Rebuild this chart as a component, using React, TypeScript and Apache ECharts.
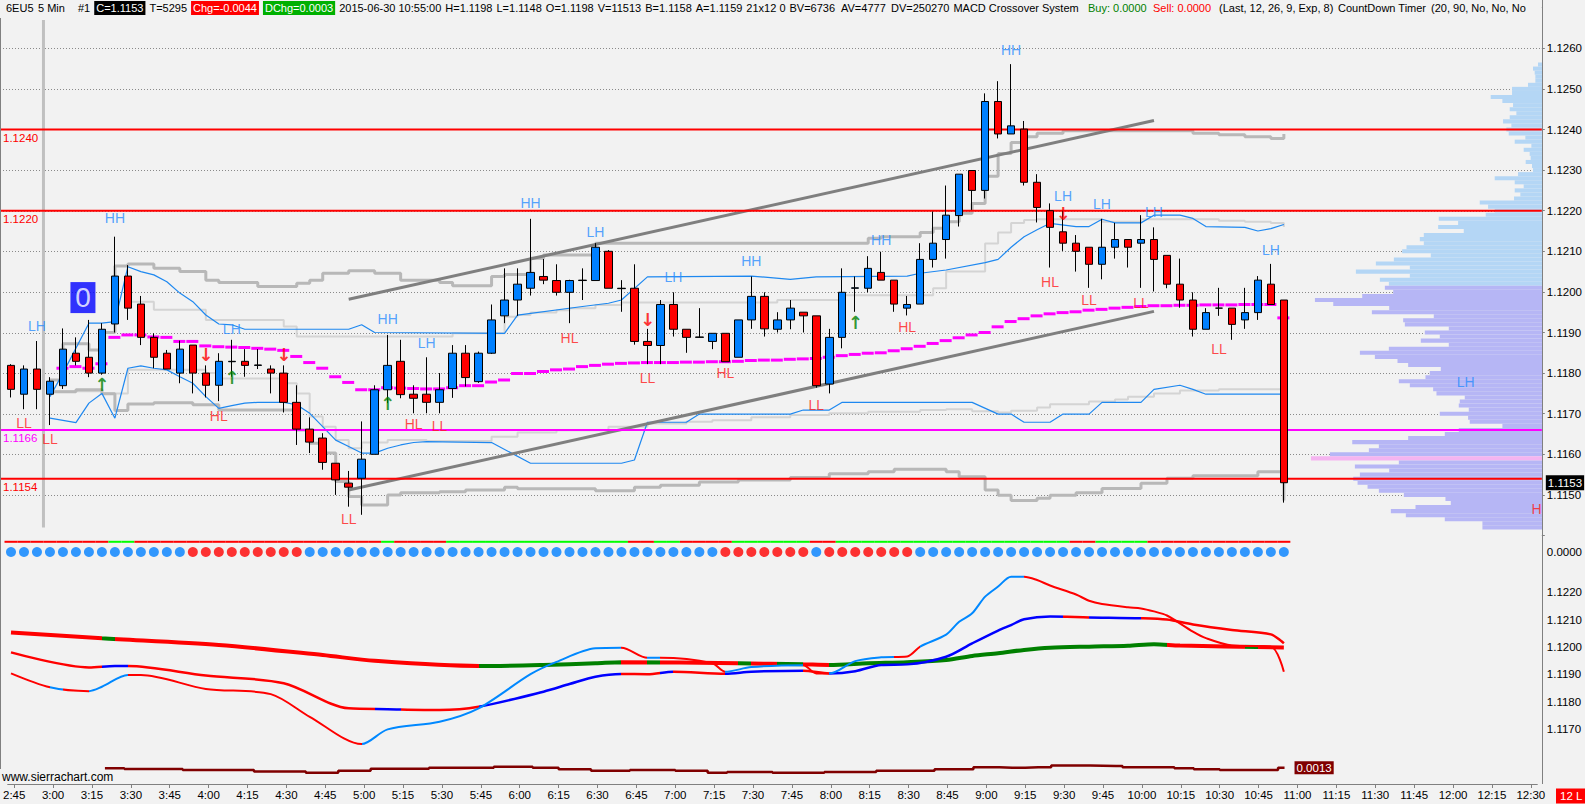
import React, { useEffect, useRef } from "react";
import * as echarts from "echarts";

const FONT_AX = "'Liberation Sans',Arial,sans-serif";
const FONT_LBL = "'Liberation Sans',Arial,sans-serif";
const BG = "#f2f2f2";

const SESSION_START = "2:45";
const BAR_MINUTES = 5;
const CATEGORY_COUNT = 118;

// [open, close, low, high]
const candles: number[][] = [
  [1.11819, 1.1176, 1.1174, 1.11822], [1.11748, 1.1181, 1.11711, 1.11819], [1.1181, 1.1176, 1.11711, 1.11879],
  [1.11748, 1.1178, 1.11672, 1.1179], [1.11769, 1.11859, 1.11761, 1.1191], [1.11849, 1.11829, 1.11819, 1.11888],
  [1.11839, 1.118, 1.1179, 1.11931], [1.118, 1.11908, 1.11796, 1.11923], [1.11921, 1.12039, 1.119, 1.12136],
  [1.12039, 1.1196, 1.11931, 1.12066], [1.1197, 1.11888, 1.11869, 1.1199], [1.11888, 1.11839, 1.11812, 1.11898],
  [1.11849, 1.1181, 1.1181, 1.11857], [1.118, 1.11859, 1.11775, 1.1188], [1.11869, 1.118, 1.1175, 1.11869],
  [1.118, 1.1177, 1.1174, 1.11819], [1.1177, 1.11829, 1.11731, 1.11849], [1.11828, 1.11829, 1.11791, 1.11882],
  [1.11829, 1.11819, 1.11791, 1.11859], [1.11819, 1.1182, 1.1181, 1.11859], [1.1181, 1.118, 1.1175, 1.11819],
  [1.118, 1.11728, 1.11703, 1.11819], [1.11728, 1.11662, 1.11623, 1.1177], [1.11662, 1.1163, 1.11603, 1.11691],
  [1.1164, 1.1158, 1.11562, 1.11652], [1.11578, 1.11537, 1.115, 1.11578], [1.11529, 1.11519, 1.11471, 1.11559],
  [1.11541, 1.11588, 1.11451, 1.11681], [1.116, 1.11759, 1.116, 1.1177], [1.11759, 1.11819, 1.11726, 1.11894],
  [1.11829, 1.11747, 1.11738, 1.11882], [1.11748, 1.11738, 1.11701, 1.1177], [1.11748, 1.11728, 1.11701, 1.11839],
  [1.11728, 1.11759, 1.11701, 1.118], [1.11762, 1.11849, 1.11739, 1.11869], [1.11849, 1.11789, 1.11767, 1.11869],
  [1.11779, 1.11849, 1.11776, 1.11853], [1.11849, 1.11931, 1.11847, 1.11969], [1.11941, 1.1198, 1.11923, 1.12058],
  [1.1198, 1.12019, 1.11941, 1.12058], [1.12009, 1.12048, 1.11991, 1.1218], [1.12038, 1.12029, 1.12019, 1.12081],
  [1.12028, 1.11999, 1.11991, 1.12068], [1.11999, 1.12028, 1.11923, 1.1203], [1.12028, 1.12029, 1.1198, 1.12058],
  [1.12028, 1.1211, 1.12028, 1.1212], [1.121, 1.12009, 1.12009, 1.12103], [1.12008, 1.12009, 1.11951, 1.12029],
  [1.12009, 1.11878, 1.1187, 1.12068], [1.11878, 1.11868, 1.11822, 1.11909], [1.11868, 1.11969, 1.11822, 1.1198],
  [1.11969, 1.11908, 1.1189, 1.11999], [1.11908, 1.11888, 1.1185, 1.11908], [1.11888, 1.11889, 1.11887, 1.1196],
  [1.11878, 1.11898, 1.11859, 1.11898], [1.11898, 1.11828, 1.11828, 1.11898], [1.11839, 1.11931, 1.11839, 1.11931],
  [1.11931, 1.11989, 1.11909, 1.12038], [1.11989, 1.11909, 1.1189, 1.11999], [1.11908, 1.11931, 1.119, 1.1195],
  [1.11931, 1.1196, 1.11908, 1.1198], [1.1195, 1.11941, 1.119, 1.1195], [1.11941, 1.11769, 1.11764, 1.11941],
  [1.11773, 1.11888, 1.1175, 1.11909], [1.11888, 1.11999, 1.11861, 1.12058], [1.12009, 1.1201, 1.11951, 1.12038],
  [1.12009, 1.12058, 1.11999, 1.12088], [1.12048, 1.12029, 1.12029, 1.12099], [1.12029, 1.1197, 1.11951, 1.12029],
  [1.1196, 1.11969, 1.11942, 1.1199], [1.1197, 1.1208, 1.1197, 1.1212], [1.1208, 1.1212, 1.1206, 1.12198],
  [1.12129, 1.12189, 1.12082, 1.12262], [1.12188, 1.1229, 1.12161, 1.1229], [1.12299, 1.1225, 1.12202, 1.12299],
  [1.1225, 1.12469, 1.1223, 1.12489], [1.12469, 1.12389, 1.12378, 1.12519], [1.12389, 1.12409, 1.12389, 1.12561],
  [1.12401, 1.1227, 1.12262, 1.12421], [1.1227, 1.12208, 1.12171, 1.1229], [1.122, 1.12159, 1.1206, 1.12218],
  [1.12148, 1.1212, 1.12101, 1.122], [1.1212, 1.121, 1.1205, 1.1214], [1.1211, 1.12068, 1.1201, 1.1211],
  [1.12068, 1.1211, 1.12031, 1.1218], [1.1211, 1.12129, 1.12082, 1.1217], [1.12129, 1.1211, 1.1206, 1.12129],
  [1.1212, 1.12129, 1.1201, 1.12189], [1.12129, 1.1208, 1.12001, 1.12159], [1.1209, 1.12019, 1.12009, 1.1209],
  [1.12019, 1.1198, 1.11961, 1.12082], [1.1198, 1.11908, 1.1189, 1.11999], [1.11908, 1.11949, 1.11908, 1.1196],
  [1.1196, 1.1196, 1.11941, 1.1201], [1.1196, 1.1192, 1.11882, 1.1196], [1.11931, 1.11949, 1.11909, 1.1201],
  [1.11949, 1.12029, 1.11931, 1.12039], [1.12019, 1.11969, 1.11969, 1.12069], [1.1198, 1.1153, 1.11481, 1.1198],
];

const VWAP_FIRST_BAR = 4;
const vwap = [
  1.11812, 1.11816, 1.11812, 1.11823, 1.11888, 1.11894, 1.11894, 1.11889, 1.11888, 1.11878, 1.11878, 1.11867,
  1.11865, 1.11864, 1.11863, 1.11861, 1.11859, 1.11856, 1.11841, 1.11826, 1.11812, 1.11791, 1.11777, 1.11759,
  1.11759, 1.11764, 1.11763, 1.11762, 1.11761, 1.11761, 1.11764, 1.11769, 1.11769, 1.11778, 1.11783, 1.11799,
  1.11799, 1.11804, 1.11808, 1.1181, 1.11816, 1.11819, 1.11822, 1.11824, 1.11825, 1.11826, 1.11826, 1.11826,
  1.11827, 1.11827, 1.11828, 1.11828, 1.11829, 1.11831, 1.11832, 1.11832, 1.11834, 1.11835, 1.11836, 1.11839,
  1.11843, 1.11846, 1.11849, 1.1185, 1.11855, 1.1186, 1.11866, 1.11873, 1.1188, 1.11887, 1.11894, 1.119,
  1.11914, 1.11927, 1.11934, 1.11941, 1.11946, 1.11949, 1.11951, 1.11955, 1.11957, 1.1196, 1.11962, 1.11964,
  1.11966, 1.11966, 1.11967, 1.11967, 1.11968, 1.11968, 1.11968, 1.11969, 1.11969, 1.11969, 1.11936,
];

const greyUpper = [
  [3, 1.11783], [4, 1.11872], [6, 1.11857], [7, 1.119], [8, 1.12064], [9, 1.12069], [11, 1.12058], [13, 1.1205],
  [15, 1.12029], [16, 1.12023], [19, 1.12013], [22, 1.12021], [23, 1.12029], [24, 1.12046], [26, 1.12052],
  [28, 1.12046], [30, 1.12029], [33, 1.12023], [34, 1.12015], [37, 1.12038], [38, 1.12043], [40, 1.12083],
  [41, 1.12091], [45, 1.1212], [66, 1.12132], [67, 1.12136], [70, 1.12146], [71, 1.12157], [72, 1.12173],
  [73, 1.12194], [74, 1.12218], [75, 1.12285], [76, 1.12341], [77, 1.12368], [78, 1.12382], [79, 1.12391],
  [81, 1.12397], [91, 1.12391], [93, 1.12387], [95, 1.12382], [97, 1.12378], [98, 1.12389],
];
const greyLower = [
  [3, 1.11754], [5, 1.11759], [7, 1.11749], [8, 1.11708], [9, 1.11724], [11, 1.11727], [14, 1.11722], [16, 1.11709],
  [22, 1.1166], [23, 1.11627], [24, 1.11603], [25, 1.11533], [26, 1.11496], [27, 1.11475], [29, 1.115], [30, 1.11505],
  [33, 1.11508], [35, 1.11512], [38, 1.11519], [39, 1.11515], [45, 1.1151], [48, 1.11519], [50, 1.11524],
  [53, 1.11532], [56, 1.11537], [60, 1.11543], [63, 1.11552], [66, 1.11557], [68, 1.11563], [72, 1.11557],
  [73, 1.11545], [75, 1.11512], [76, 1.11499], [77, 1.11486], [79, 1.11492], [80, 1.11499], [82, 1.11505],
  [84, 1.11516], [87, 1.11529], [89, 1.11541], [91, 1.11547], [96, 1.11557], [98, 1.11486],
];
const lightUpper = [
  [9, 1.11976], [11, 1.11956], [15, 1.11931], [21, 1.11915], [22, 1.1189], [34, 1.11898], [38, 1.11939],
  [39, 1.11943], [40, 1.11949], [42, 1.11955], [43, 1.1196], [45, 1.11968], [47, 1.11974], [59, 1.1198],
  [64, 1.11992], [71, 1.12009], [72, 1.1205], [75, 1.12119], [76, 1.12146], [77, 1.1217], [78, 1.12177],
  [79, 1.12179], [84, 1.12173], [87, 1.12179], [93, 1.12175], [95, 1.12173], [97, 1.1217], [98, 1.1216],
];
const lightLower = [
  [3, 1.11755], [7, 1.1175], [9, 1.11808], [15, 1.118], [16, 1.11787], [21, 1.11775], [22, 1.1175], [23, 1.11693],
  [24, 1.11668], [25, 1.11635], [26, 1.11615], [27, 1.11629], [29, 1.11635], [32, 1.11633], [37, 1.11643],
  [39, 1.11654], [42, 1.11659], [46, 1.11668], [49, 1.11676], [52, 1.1168], [54, 1.11684], [57, 1.11691],
  [60, 1.11697], [63, 1.11701], [66, 1.11705], [70, 1.11709], [72, 1.11711], [74, 1.11706], [76, 1.11703],
  [77, 1.11707], [79, 1.11715], [80, 1.11723], [83, 1.1173], [85, 1.11735], [86, 1.11742], [88, 1.1175],
  [90, 1.11757], [93, 1.1176], [98, 1.1176],
];
const blueUpper = [
  [3, 1.11742], [4, 1.118], [6, 1.11923], [7, 1.11923], [8, 1.11927], [9, 1.12062], [10, 1.1205], [11, 1.12042],
  [12, 1.12025], [13, 1.11997], [14, 1.11976], [15, 1.11943], [16, 1.11921], [17, 1.11919], [18, 1.11908],
  [26, 1.11908], [27, 1.11919], [28, 1.119], [38, 1.11898], [39, 1.11943], [44, 1.11964], [46, 1.11972],
  [47, 1.1198], [49, 1.12037], [57, 1.12039], [60, 1.12031], [62, 1.12037], [69, 1.12039], [70, 1.12046],
  [72, 1.12054], [75, 1.12072], [76, 1.1208], [77, 1.1211], [78, 1.12136], [79, 1.12153], [80, 1.12169],
  [82, 1.12161], [83, 1.12161], [84, 1.12179], [85, 1.1217], [87, 1.1217], [88, 1.12189], [90, 1.12189],
  [91, 1.12181], [92, 1.12161], [95, 1.12159], [96, 1.1215], [97, 1.12156], [98, 1.12166],
];
const blueLower = [
  [3, 1.11689], [5, 1.11678], [6, 1.11726], [7, 1.1175], [8, 1.11689], [9, 1.11812], [10, 1.11818], [11, 1.11812],
  [12, 1.11808], [13, 1.11791], [14, 1.11775], [15, 1.11742], [16, 1.11713], [17, 1.1172], [18, 1.11726],
  [19, 1.11728], [21, 1.11728], [22, 1.11722], [23, 1.11701], [24, 1.11668], [25, 1.11635], [26, 1.11619],
  [27, 1.11603], [28, 1.11603], [29, 1.11615], [30, 1.11623], [31, 1.11629], [32, 1.11631], [37, 1.11629],
  [40, 1.11578], [47, 1.11578], [48, 1.11586], [49, 1.11679], [52, 1.11679], [53, 1.11699], [60, 1.11699],
  [61, 1.11709], [63, 1.11709], [64, 1.11728], [74, 1.11728], [76, 1.11699], [77, 1.11699], [78, 1.11679],
  [80, 1.11679], [81, 1.11699], [83, 1.11699], [84, 1.11728], [87, 1.11728], [88, 1.1176], [90, 1.1177],
  [91, 1.1176], [92, 1.11748], [98, 1.11748],
];
const channelUpper = [[26, 1.11982], [88, 1.12422]];
const channelLower = [[26, 1.11512], [88, 1.11952]];

const levelLines = [
  { price: 1.124, color: "#ff0000", text: "1.1240" },
  { price: 1.122, color: "#ff0000", text: "1.1220" },
  { price: 1.1166, color: "#ff00ff", text: "1.1166" },
  { price: 1.1154, color: "#ff0000", text: "1.1154" },
];
const priceGridTicks = [1.115, 1.116, 1.117, 1.118, 1.119, 1.12, 1.121, 1.122, 1.123, 1.124, 1.125, 1.126];
const LAST_PRICE = 1.1153;

const swingLabels: [number, number, string][] = [
  [2, 1.11916, "LH"], [1, 1.11678, "LL"], [3, 1.11638, "LL"], [8, 1.12182, "HH"], [17, 1.11909, "LH"],
  [16, 1.11694, "HL"], [29, 1.11934, "HH"], [32, 1.11875, "LH"], [31, 1.11675, "HL"], [33, 1.1167, "LL"],
  [26, 1.11441, "LL"], [40, 1.1222, "HH"], [45, 1.12148, "LH"], [43, 1.11886, "HL"], [49, 1.11789, "LL"],
  [51, 1.12036, "LH"], [57, 1.12076, "HH"], [55, 1.11801, "HL"], [62, 1.11721, "LL"], [67, 1.12128, "HH"],
  [69, 1.11913, "HL"], [77, 1.12596, "HH"], [81, 1.12236, "LH"], [80, 1.12024, "HL"], [83, 1.1198, "LL"],
  [84, 1.12217, "LH"], [87, 1.11972, "LL"], [88, 1.12198, "LH"], [97, 1.12103, "LH"], [93, 1.11859, "LL"],
  [112, 1.11779, "LH"],
];
const profileMarker: [number, number, string] = [117, 1.11465, "H"];
const upArrows = [[7, 1.11773], [17, 1.11788], [29, 1.11726], [65, 1.11924]];
const downArrows = [[15, 1.11845], [21, 1.11845], [49, 1.11933], [81, 1.12192]];
const counterBox: [number, number, string] = [5, 1.11986, "0"];
const sessionLine = [2, 1.1267, 1.1142];

// volume profile: one row per 0.0001 from the top price down
const PROFILE_TOP = 1.1256;
const PROFILE_TICK = 0.0001;
const PROFILE_POC = 1.1159;
const PROFILE_SPLIT = 1.12015;
const profileVolumes = [
  12, 27, 22, 20, 20, 42, 90, 90, 154, 119, 87, 97, 77, 97, 117, 92, 107, 100, 50, 82, 32, 55, 37, 34, 49, 30,
  27, 72, 142, 82, 55, 82, 65, 84, 187, 162, 142, 169, 310, 252, 312, 235, 355, 367, 355, 407, 420, 334, 445,
  499, 397, 559, 397, 487, 460, 472, 447, 540, 682, 627, 459, 511, 325, 417, 412, 280, 352, 307, 364, 280, 460,
  547, 502, 434, 402, 304, 337, 350, 430, 397, 327, 317, 232, 247, 250, 220, 307, 222, 217, 119, 250, 292, 402,
  570, 490, 520, 637, 694, 430, 562, 459, 547, 567, 554, 524, 490, 415, 290, 274, 380, 454, 409, 292, 179, 179,
];

const redDotRanges = [[14, 22], [55, 61], [63, 69]];
const signalGreenRanges = [[8, 9], [29, 29], [34, 47], [50, 51], [56, 61], [64, 81], [84, 87]];

const fastLine = [
  [0, 1.11903], [3, 1.11852], [6, 1.11838], [7, 1.11854], [9, 1.11897], [10, 1.11897], [15, 1.11846],
  [20, 1.11827], [23, 1.11744], [27, 1.11644], [29, 1.11698], [33, 1.11726], [36, 1.11775], [40, 1.119],
  [42, 1.11945], [45, 1.11995], [47, 1.11997], [49, 1.1196], [50, 1.1196], [54, 1.1194], [55, 1.11909],
  [57, 1.11926], [61, 1.11933], [62, 1.11903], [63, 1.11903], [65, 1.11948], [67, 1.11962], [69, 1.11965],
  [70, 1.12001], [72, 1.12045], [73, 1.12092], [74, 1.12123], [75, 1.12184], [76, 1.12221], [77, 1.12257],
  [78, 1.12257], [79, 1.12245], [80, 1.12225], [82, 1.12192], [83, 1.12169], [84, 1.12157], [86, 1.12145],
  [87, 1.12141], [88, 1.1213], [89, 1.12115], [91, 1.12056], [92, 1.12032], [94, 1.12005], [97, 1.12001],
  [98, 1.11909],
];
const mediumLine = [
  [0, 1.1198], [6, 1.11925], [8, 1.1193], [9, 1.1193], [15, 1.11895], [21, 1.11867], [26, 1.11775],
  [29, 1.11772], [33, 1.11769], [36, 1.11781], [41, 1.11836], [43, 1.11864], [45, 1.11891], [47, 1.11901],
  [49, 1.119], [51, 1.11909], [55, 1.11902], [57, 1.11909], [61, 1.11913], [63, 1.11903], [65, 1.11911],
  [67, 1.11934], [69, 1.11936], [72, 1.11964], [74, 1.12013], [76, 1.1206], [77, 1.1208], [78, 1.12101],
  [80, 1.12111], [83, 1.12108], [87, 1.12105], [89, 1.121], [91, 1.12082], [94, 1.12062], [97, 1.12046],
  [98, 1.12013],
];
const slowLine = [
  [0, 1.12053], [7, 1.12032], [16, 1.12007], [24, 1.1197], [28, 1.11949], [36, 1.1193], [41, 1.11934],
  [45, 1.1194], [47, 1.11944], [56, 1.1194], [61, 1.11936], [63, 1.11934], [66, 1.1194], [69, 1.11944],
  [72, 1.11952], [74, 1.11967], [76, 1.11977], [78, 1.11989], [80, 1.11997], [83, 1.12001], [86, 1.12004],
  [88, 1.1201], [90, 1.12005], [98, 1.11998],
];
const fastBlueRanges = [[2.8, 4], [5.9, 8.9], [26.9, 47], [49, 50], [55, 61], [63, 67.7], [69.6, 78]];
const mediumBlueRanges = [[7, 8.9], [28, 29.5], [36, 47], [49.5, 51], [55, 61], [63, 81], [83, 87]];
const slowGreenRanges = [[7, 8.4], [36, 47], [49, 50], [56, 57], [59, 61], [63, 89], [94.8, 95.7]];

const bottomLine = [
  [7, 0.00129], [10, 0.00126], [16, 0.00122], [21, 0.00115], [24, 0.0011], [26, 0.00119], [29, 0.00127],
  [35, 0.00131], [39, 0.00135], [41, 0.00131], [43, 0.00125], [46, 0.00119], [49, 0.00122], [53, 0.00119],
  [54, 0.0011], [56, 0.00113], [61, 0.0011], [64, 0.00113], [69, 0.00119], [73, 0.00125], [75, 0.00133],
  [77, 0.00131], [79, 0.00133], [81, 0.0014], [85, 0.00138], [86, 0.00133], [89, 0.00133], [90, 0.00129],
  [92, 0.00125], [94, 0.00122], [97, 0.00122], [98, 0.00131],
];
const BOTTOM_LABEL = "0.0013";

const headerItems: { t: string; x: number; fill?: string; bg?: string }[] = [
  { t: "6EU5", x: 6 }, { t: "5 Min", x: 38 }, { t: "#1", x: 78 },
  { t: "C=1.1153", x: 94, fill: "#fff", bg: "#000" }, { t: "T=5295", x: 144 },
  { t: "Chg=-0.0044", x: 188, fill: "#fff", bg: "#ff0000" }, { t: "DChg=0.0003", x: 256, fill: "#fff", bg: "#00b000" },
  { t: "2015-06-30 10:55:00", x: 332 }, { t: "H=1.1198", x: 435 }, { t: "L=1.1148", x: 487 },
  { t: "O=1.1198", x: 530 }, { t: "V=11513", x: 572 }, { t: "B=1.1158", x: 623 }, { t: "A=1.1159", x: 679 },
  { t: "21x12 0", x: 727 }, { t: "BV=6736", x: 783 }, { t: "AV=4777", x: 841 }, { t: "DV=250270", x: 891 },
  { t: "MACD Crossover System", x: 951 }, { t: "Buy: 0.0000", x: 1088, fill: "#008000" },
  { t: "Sell: 0.0000", x: 1153, fill: "#ff0000" }, { t: "(Last, 12, 26, 9, Exp, 8)", x: 1219 },
  { t: "CountDown Timer", x: 1338 }, { t: "(20, 90, No, No, No", x: 1431 },
];
const HEADER_FONT = `11px ${FONT_AX}`;

function makeTimes(): string[] {
  const [h0, m0] = SESSION_START.split(":").map(Number);
  const out: string[] = [];
  for (let i = 0; i < CATEGORY_COUNT; i++) {
    const t = h0 * 60 + m0 + i * BAR_MINUTES;
    out.push(`${Math.floor(t / 60)}:${String(t % 60).padStart(2, "0")}`);
  }
  return out;
}

function pieces(onRanges: number[][], onColor: string, offColor: string) {
  const res: any[] = [];
  let cur = -10;
  for (const [a, b] of onRanges) {
    if (a > cur) res.push({ gte: cur, lt: a, color: offColor });
    res.push({ gte: a, lt: b, color: onColor });
    cur = b;
  }
  res.push({ gte: cur, lte: 500, color: offColor });
  return res;
}

function inRanges(i: number, ranges: number[][]) {
  return ranges.some(([a, b]) => i >= a && i <= b);
}

function layoutHeader() {
  const ctx = document.createElement("canvas").getContext("2d");
  let prevEnd = -Infinity;
  return headerItems.map((h) => {
    let w = h.t.length * 6;
    if (ctx) { ctx.font = HEADER_FONT; w = ctx.measureText(h.t).width; }
    const pad = h.bg ? 2 : 0;
    const x = Math.max(h.x, prevEnd + 4);
    prevEnd = x + w + pad * 2;
    return { ...h, x };
  });
}

function buildOption() {
  const times = makeTimes();
  const GL = 4.5, GR = 47.7, AXIS_GAP = 4.7;
  const AX_SIZE = 11.5;
  const grids = [
    { left: GL, right: GR, top: 7.7, height: 527.8 },
    { left: 1270, right: 43, top: 7.7, height: 527.8 },
    { left: GL, right: GR, top: 535, height: 34 },
    { left: GL, right: GR, top: 565, height: 191.1 },
    { left: GL, right: GR, top: 756, height: 24 },
  ];
  const hiddenCat = (gi: number) => ({ type: "category", gridIndex: gi, data: times, show: false, boundaryGap: true });
  const axLabel = (formatter: any) => ({
    show: true, color: "#000", fontSize: AX_SIZE, fontFamily: FONT_AX, margin: 5, formatter,
  });
  const yBase = (gi: number) => ({
    gridIndex: gi, type: "value", position: "right", offset: AXIS_GAP,
    splitLine: { show: false }, axisLine: { show: false },
    axisTick: { show: true, length: 3, lineStyle: { color: "#808080" } },
  });

  const series: any[] = [];
  const add = (s: any) => { series.push(s); return series.length - 1; };

  // dotted price gridlines
  add({
    type: "custom", xAxisIndex: 0, yAxisIndex: 0, z: 1, silent: true, clip: false,
    data: priceGridTicks.map((p) => [0, p]),
    renderItem: (params: any, api: any) => {
      const cs = params.coordSys;
      const y = Math.round(api.coord([0, api.value(1)])[1]) + 0.5;
      return { type: "line", shape: { x1: 0, y1: y, x2: cs.x + cs.width + AXIS_GAP, y2: y }, style: { stroke: "#8a8a8a", lineWidth: 1, lineDash: [1, 2] } };
    },
  });
  // volume profile
  add({
    type: "custom", xAxisIndex: 1, yAxisIndex: 1, z: 2, silent: true,
    data: profileVolumes.map((v, k) => [v, +(PROFILE_TOP - k * PROFILE_TICK).toFixed(4)]),
    renderItem: (params: any, api: any) => {
      const v = api.value(0), p = api.value(1);
      const a = api.coord([v, p + PROFILE_TICK / 2]);
      const b = api.coord([0, p - PROFILE_TICK / 2]);
      const fill = Math.abs(p - PROFILE_POC) < 1e-6 ? "#f5b4f0" : p >= PROFILE_SPLIT ? "#b4d6f5" : "#b6b6f5";
      return { type: "rect", shape: { x: a[0], y: a[1], width: b[0] - a[0], height: b[1] - a[1] }, style: { fill } };
    },
  });
  // grey bands
  const stepLine = (data: number[][], color: string, width: number, z: number) =>
    add({
      type: "line", xAxisIndex: 0, yAxisIndex: 0, data, step: "end", symbol: "none", z, silent: true,
      lineStyle: { color, width }, emphasis: { disabled: true },
    });
  stepLine(lightUpper, "#d4d4d4", 2, 3);
  stepLine(lightLower, "#d4d4d4", 2, 3);
  stepLine(greyUpper, "#b8b8b8", 3, 3);
  stepLine(greyLower, "#b8b8b8", 3, 3);
  const plainLine = (data: number[][], color: string, width: number, z: number) =>
    add({
      type: "line", xAxisIndex: 0, yAxisIndex: 0, data, symbol: "none", z, silent: true,
      lineStyle: { color, width }, emphasis: { disabled: true },
    });
  plainLine(blueUpper, "#1e88f0", 1.2, 4);
  plainLine(blueLower, "#1e88f0", 1.2, 4);
  plainLine(channelUpper, "#7f7f7f", 3, 4);
  plainLine(channelLower, "#7f7f7f", 3, 4);
  // session start line
  add({
    type: "custom", xAxisIndex: 0, yAxisIndex: 0, z: 3, silent: true, data: [sessionLine],
    renderItem: (params: any, api: any) => {
      const w = api.size([1, 0])[0];
      const a = api.coord([api.value(0), api.value(1)]);
      const b = api.coord([api.value(0), api.value(2)]);
      const x = a[0] + w / 2;
      return { type: "line", shape: { x1: x, y1: a[1], x2: x, y2: b[1] }, style: { stroke: "#c0c0c0", lineWidth: 3 } };
    },
  });
  // vwap dashes
  add({
    type: "custom", xAxisIndex: 0, yAxisIndex: 0, z: 5, silent: true,
    data: vwap.map((v, k) => [k + VWAP_FIRST_BAR, v]),
    renderItem: (params: any, api: any) => {
      const c = api.coord([api.value(0), api.value(1)]);
      const w = api.size([1, 0])[0];
      return { type: "line", shape: { x1: c[0] - w / 2, y1: c[1], x2: c[0] + w / 2 - 1, y2: c[1] }, style: { stroke: "#ff00ff", lineWidth: 3 } };
    },
  });
  // horizontal level lines with their labels
  add({
    type: "custom", xAxisIndex: 0, yAxisIndex: 0, z: 6, silent: true, clip: false,
    data: levelLines.map((l) => [0, l.price]),
    renderItem: (params: any, api: any) => {
      const cs = params.coordSys;
      const l = levelLines[params.dataIndex];
      const y = api.coord([0, api.value(1)])[1];
      return {
        type: "group",
        children: [
          { type: "line", shape: { x1: 0, y1: y, x2: cs.x + cs.width + AXIS_GAP, y2: y }, style: { stroke: l.color, lineWidth: 2 } },
          { type: "text", x: 3, y: y + 2, style: { text: l.text, fill: l.color, font: `${AX_SIZE}px ${FONT_AX}`, verticalAlign: "top" } },
        ],
      };
    },
  });
  // last price tag on the axis
  add({
    type: "custom", xAxisIndex: 0, yAxisIndex: 0, z: 9, silent: true, clip: false,
    data: [[0, LAST_PRICE]],
    renderItem: (params: any, api: any) => {
      const cs = params.coordSys;
      const y = api.coord([0, api.value(1)])[1];
      return {
        type: "text", x: cs.x + cs.width + AXIS_GAP + 4, y,
        style: { text: LAST_PRICE.toFixed(4), fill: "#fff", font: `${AX_SIZE}px ${FONT_AX}`, verticalAlign: "middle", backgroundColor: "#000", padding: [2, 2, 1, 2] },
      };
    },
  });
  // candles
  add({
    type: "candlestick", xAxisIndex: 0, yAxisIndex: 0, z: 7, barWidth: 8, silent: true,
    data: candles.map(([o, c, l, h]) => [o, c, l, h]),
    itemStyle: { color: "#0080ff", color0: "#ff0000", borderColor: "#000", borderColor0: "#000", borderColorDoji: "#000", borderWidth: 1 },
  });
  // swing labels
  const lblItem = ([i, p, t]: [number, number, string], color: string, offset = [0, 0]) => ({
    value: [i, p],
    label: { show: true, position: "inside", formatter: t, color, fontSize: 14, fontFamily: FONT_LBL, offset },
  });
  add({
    type: "scatter", xAxisIndex: 0, yAxisIndex: 0, z: 8, silent: true, symbolSize: 1,
    itemStyle: { color: "rgba(0,0,0,0)" },
    data: [
      ...swingLabels.map((s) => lblItem(s, s[2] === "HH" || s[2] === "LH" ? "#2a8cff" : "#ff1a1a")),
      lblItem(profileMarker, "#ff1a1a", [6, 0]),
    ],
  });
  // arrows
  const arrowItem = (a: number[], t: string, color: string) => ({
    value: a,
    label: { show: true, position: "inside", formatter: t, color, fontSize: 18, fontWeight: "bold", fontFamily: "'DejaVu Sans',sans-serif" },
  });
  add({
    type: "scatter", xAxisIndex: 0, yAxisIndex: 0, z: 8, silent: true, symbolSize: 1,
    itemStyle: { color: "rgba(0,0,0,0)" },
    data: [...upArrows.map((a) => arrowItem(a, "↑", "#008000")), ...downArrows.map((a) => arrowItem(a, "↓", "#ff0000"))],
  });
  // counter box
  add({
    type: "scatter", xAxisIndex: 0, yAxisIndex: 0, z: 8, silent: true,
    symbol: "rect", symbolSize: [25, 31], symbolOffset: [7, 0],
    itemStyle: { color: "#0000ff" },
    data: [{ value: [counterBox[0], counterBox[1]], label: { show: true, position: "inside", formatter: counterBox[2], color: "#fff", fontSize: 28, fontFamily: FONT_LBL } }],
  });
  // signal line on dots panel
  add({
    type: "custom", xAxisIndex: 2, yAxisIndex: 2, z: 3, silent: true,
    data: candles.map((_, i) => [i, 0.6, inRanges(i, signalGreenRanges) ? 1 : 0]),
    renderItem: (params: any, api: any) => {
      const c = api.coord([api.value(0), api.value(1)]);
      const w = api.size([1, 0])[0];
      return { type: "line", shape: { x1: c[0] - w / 2, y1: c[1], x2: c[0] + w / 2, y2: c[1] }, style: { stroke: api.value(2) ? "#00ff00" : "#ff0000", lineWidth: 2 } };
    },
  });
  // dots
  add({
    type: "scatter", xAxisIndex: 2, yAxisIndex: 2, z: 4, silent: true, symbolSize: 10,
    data: candles.map((_, i) => ({ value: [i, 0], itemStyle: { color: inRanges(i, redDotRanges) ? "#ff0000" : "#0080ff" } })),
  });
  // macd-style lines
  const slowIdx = add({ type: "line", xAxisIndex: 3, yAxisIndex: 3, data: slowLine, symbol: "none", smooth: 0.3, z: 3, silent: true, lineStyle: { width: 4 } });
  const medIdx = add({ type: "line", xAxisIndex: 3, yAxisIndex: 3, data: mediumLine, symbol: "none", smooth: 0.3, z: 4, silent: true, lineStyle: { width: 2.5 } });
  const fastIdx = add({ type: "line", xAxisIndex: 3, yAxisIndex: 3, data: fastLine, symbol: "none", smooth: 0.3, z: 5, silent: true, lineStyle: { width: 2 } });
  // bottom line
  add({
    type: "line", xAxisIndex: 4, yAxisIndex: 4, data: bottomLine, symbol: "none", step: "middle", z: 3, silent: true,
    lineStyle: { color: "#800000", width: 2.5 },
    endLabel: { show: true, formatter: BOTTOM_LABEL, color: "#fff", backgroundColor: "#800000", padding: [1, 2, 0, 2], fontSize: AX_SIZE, fontFamily: FONT_AX, distance: 10 },
  });

  const headerGraphics = layoutHeader().map((h) => ({
    type: "text", x: h.x, y: 8, z: 50, silent: true,
    style: {
      text: h.t, fill: h.fill || "#000", font: HEADER_FONT, verticalAlign: "middle",
      backgroundColor: h.bg, padding: h.bg ? [2, 2, 1, 2] : 0,
    },
  }));

  return {
    backgroundColor: BG,
    animation: false,
    grid: grids,
    xAxis: [
      hiddenCat(0),
      { type: "value", gridIndex: 1, min: 0, max: 817, inverse: true, show: false },
      hiddenCat(2),
      hiddenCat(3),
      {
        type: "category", gridIndex: 4, data: times, boundaryGap: true, position: "bottom", offset: 4,
        axisLine: { show: true, onZero: false, lineStyle: { color: "#808080" } },
        axisTick: { show: true, interval: 2, alignWithLabel: true, length: 4, lineStyle: { color: "#808080" } },
        axisLabel: { interval: 2, color: "#000", fontSize: AX_SIZE, fontFamily: FONT_AX, margin: 5 },
      },
    ],
    yAxis: [
      { ...yBase(0), min: 1.114, max: 1.127, interval: 0.001, axisLabel: axLabel((v: number) => (v > 1.1145 && v < 1.1265 ? v.toFixed(4) : "")) },
      { type: "value", gridIndex: 1, min: 1.114, max: 1.127, show: false, splitLine: { show: false } },
      { ...yBase(2), min: -1, max: 1, interval: 1, axisTick: { show: false }, axisLabel: axLabel((v: number) => (Math.abs(v) < 1e-9 ? "0.0000" : "")) },
      { ...yBase(3), min: 1.116, max: 1.123, interval: 0.001, axisTick: { show: false }, axisLabel: axLabel((v: number) => (v > 1.1165 && v < 1.1225 ? v.toFixed(4) : "")) },
      { type: "value", gridIndex: 4, min: 0.0008, max: 0.0018, show: false, splitLine: { show: false } },
    ],
    visualMap: [
      { type: "piecewise", show: false, dimension: 0, seriesIndex: slowIdx, pieces: pieces(slowGreenRanges, "#008000", "#ff0000") },
      { type: "piecewise", show: false, dimension: 0, seriesIndex: medIdx, pieces: pieces(mediumBlueRanges, "#0000ff", "#ff0000") },
      { type: "piecewise", show: false, dimension: 0, seriesIndex: fastIdx, pieces: pieces(fastBlueRanges, "#0088ff", "#ff0000") },
    ],
    series,
    graphic: [
      ...headerGraphics,
      { type: "rect", z: 60, silent: true, shape: { x: 1543, y: 0, width: 42, height: 17 }, style: { fill: BG } },
      { type: "line", z: 70, silent: true, shape: { x1: 1542.5, y1: 0, x2: 1542.5, y2: 784 }, style: { stroke: "#808080", lineWidth: 1 } },
      { type: "line", z: 70, silent: true, shape: { x1: 0.5, y1: 18, x2: 0.5, y2: 769 }, style: { stroke: "#808080", lineWidth: 1 } },
      { type: "text", z: 70, silent: true, x: 2, y: 777, style: { text: "www.sierrachart.com", fill: "#000", font: `12px ${FONT_AX}`, verticalAlign: "middle" } },
      { type: "text", z: 70, silent: true, x: 1556, y: 796, style: { text: "12 L", fill: "#fff", font: `${AX_SIZE}px ${FONT_AX}`, verticalAlign: "middle", backgroundColor: "#ff0000", padding: [2, 4, 1, 4] } },
    ],
  };
}

export default function App() {
  const ref = useRef<HTMLDivElement>(null);
  useEffect(() => {
    const chart = echarts.init(ref.current as HTMLDivElement, undefined, { renderer: "svg" });
    chart.setOption(buildOption() as any);
    return () => chart.dispose();
  }, []);
  return <div ref={ref} style={{ position: "fixed", left: 0, top: 0, width: 1585, height: 804, background: BG }} />;
}
